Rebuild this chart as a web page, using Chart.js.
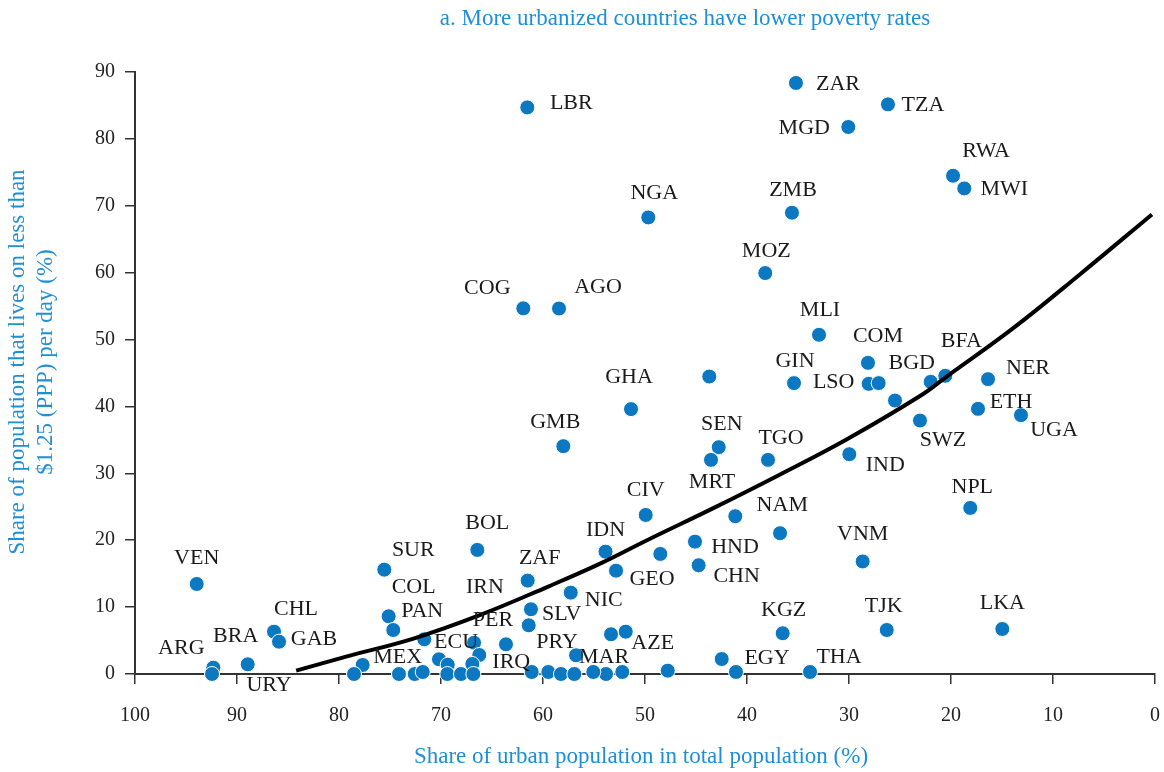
<!DOCTYPE html>
<html><head><meta charset="utf-8">
<script src="https://cdn.jsdelivr.net/npm/chart.js@4.4.0/dist/chart.umd.min.js"></script>
<style>html,body{margin:0;padding:0;background:#fff}#wrap{width:1164px;height:772px;position:relative}</style>
</head><body><div id="wrap"><canvas id="c"></canvas></div>
<script>
// ---- data ----
const countryCodes = ['VEN','ARG','URY','BRA','CHL','GAB','MEX','SUR','COL','PAN','ECU','BOL','IRQ','PER','ZAF','IRN','SLV','NIC','PRY','MAR','IDN','GEO','AZE','HND','CHN','EGY','KGZ','THA','VNM','TJK','LKA','COG','AGO','MLI','GHA','GIN','LSO','COM','BGD','BFA','NER','ETH','UGA','SWZ','IND','NPL','GMB','SEN','MRT','TGO','CIV','NAM','NGA','LBR','ZAR','TZA','MGD','RWA','MWI','ZMB','MOZ',
  '','','','','','','','','','','','','','','','','','','','','','','','',''];
const urbanShare = [93.95,92.32,92.45,88.95,86.37,85.88,77.68,75.56,75.13,74.68,66.76,66.44,66.25,63.63,61.5,61.18,61.4,57.28,56.76,53.82,53.87,52.84,51.89,45.1,44.74,41.08,36.5,33.82,28.66,26.3,14.97,61.93,58.43,32.94,51.37,35.39,28.07,28.14,27.09,20.56,16.37,17.35,13.14,23.04,29.97,18.11,58.01,42.77,43.53,37.94,49.93,41.15,49.68,61.54,35.2,26.18,30.07,19.8,18.7,35.59,38.21,
  78.53,74.12,72.58,71.79,71.64,70.2,69.34,69.38,68.04,66.93,66.83,61.11,59.48,58.24,56.93,55.07,52.23,47.77,53.33,42.48,48.5,43.7,36.76,25.49,21.99];
const povertyShare = [13.46,0.94,0,1.45,6.33,4.83,1.35,15.6,8.63,6.58,4.68,18.55,2.84,4.44,13.96,9.68,7.28,12.16,2.8,0,18.29,15.45,6.33,19.79,16.26,0.3,6.09,0.3,16.83,6.58,6.73,54.67,54.64,50.71,39.6,43.49,43.38,46.52,43.49,44.58,44.08,39.64,38.7,37.89,32.86,24.83,34.06,33.91,32.01,32.01,23.78,23.59,68.26,84.71,88.36,85.16,81.78,74.49,72.6,68.96,59.94,
  0,0,0,0.3,5.19,2.2,1.39,0,0,1.5,0,0.3,0.3,0,0,0.3,0.3,0.5,5.94,2.24,17.95,44.47,21.05,40.88,43.68];
// fitted curve
const fitUrban   = [84.2,79.3,72.7,66.2,59.6,54.4,49.8,43.3,36.8,30.2,23.0,20.4,13.9,7.4,0.3];
const fitPoverty = [0.5,2.6,5.3,8.8,13.0,16.5,20.0,24.8,29.8,35.1,41.6,44.5,51.7,59.7,68.7];
const xTickValues = [100,90,80,70,60,50,40,30,20,10,0];
const yTickValues = [0,10,20,30,40,50,60,70,80,90];
const chartTitle = 'a. More urbanized countries have lower poverty rates';
const xAxisTitle = 'Share of urban population in total population (%)';
const yAxisTitle = ['Share of population that lives on less than', '$1.25 (PPP) per day (%)'];

// ---- label placement (pixel offsets from each dot) ----
const labelPlacement = {
  VEN:[0,-26], ARG:[-32,-19], URY:[57,11], BRA:[-12,-28], CHL:[22,-22], GAB:[35,-2], MEX:[35,-8],
  SUR:[29,-19], COL:[25,-29], PAN:[29,-19], ECU:[-18,0], BOL:[10,-27], IRQ:[32,7], PER:[-13,-24],
  ZAF:[12,-22], IRN:[-46,-22], SLV:[33,-11], NIC:[33,8], PRY:[-19,-13], MAR:[-2,-17], IDN:[0,-21],
  GEO:[36,9], AZE:[27,12], HND:[40,6], CHN:[38,11], EGY:[31,-14], KGZ:[1,-23], THA:[29,-15],
  VNM:[0,-27], TJK:[-3,-24], LKA:[0,-26], COG:[-36,-20], AGO:[39,-21], MLI:[1,-25], GHA:[-2,-32],
  GIN:[1,-22], LSO:[-35,-2], COM:[10,-27], BGD:[33,-20], BFA:[16,-35], NER:[40,-11], ETH:[33,-7],
  UGA:[33,15], SWZ:[23,20], IND:[36,11], NPL:[2,-21], GMB:[-8,-24], SEN:[3,-23], MRT:[1,22],
  TGO:[13,-22], CIV:[0,-25], NAM:[47,-11], NGA:[6,-24], LBR:[44,-4], ZAR:[42,1], TZA:[35,1],
  MGD:[-44,1], RWA:[33,-25], MWI:[40,1], ZMB:[1,-23], MOZ:[1,-22]
};

const FONT = '"Liberation Serif", "DejaVu Serif", serif';
const BLUE_TEXT = '#1E8FD5';
const DOT = '#0B78C1';
const AXIS = '#333333';

const scatterPoints = urbanShare.map((u, i) => ({x: u, y: povertyShare[i]}));
const fitPoints = fitUrban.map((u, i) => ({x: u, y: fitPoverty[i]}));

const labelPlugin = {
  id: 'pointLabels',
  afterDatasetsDraw(chart) {
    const ctx = chart.ctx;
    const meta = chart.getDatasetMeta(1);
    ctx.save();
    ctx.font = '22px ' + FONT;
    ctx.fillStyle = '#1a1a1a';
    ctx.textAlign = 'center';
    ctx.textBaseline = 'middle';
    meta.data.forEach((el, i) => {
      const code = countryCodes[i];
      if (!code) return;
      const off = labelPlacement[code] || [0, -22];
      ctx.fillText(code, el.x + off[0], el.y + off[1]);
    });
    ctx.restore();
  }
};

const textPlugin = {
  id: 'titles',
  afterDraw(chart) {
    const ctx = chart.ctx;
    const ca = chart.chartArea;
    ctx.save();
    ctx.font = '23px ' + FONT;
    ctx.fillStyle = BLUE_TEXT;
    ctx.textAlign = 'center';
    ctx.textBaseline = 'middle';
    ctx.fillText(chartTitle, 685, 19);
    ctx.fillText(xAxisTitle, (ca.left + ca.right) / 2 - 4, 757);
    ctx.translate(0, 362);
    ctx.rotate(-Math.PI / 2);
    ctx.fillText(yAxisTitle[0], 0, 18);
    ctx.fillText(yAxisTitle[1], 0, 46);
    ctx.restore();
  }
};

new Chart(document.getElementById('c'), {
  data: {
    datasets: [
      { type: 'line', data: fitPoints, borderColor: '#000', borderWidth: 4, pointRadius: 0,
        tension: 0.4, fill: false, order: 0, clip: false },
      { type: 'scatter', data: scatterPoints, backgroundColor: DOT, borderColor: '#ffffff',
        borderWidth: 1, pointRadius: 7.5, pointHoverRadius: 7.5, order: 1, clip: false }
    ]
  },
  options: {
    responsive: true, maintainAspectRatio: false, animation: false,
    layout: { autoPadding: false, padding: { top: 72, right: 9, left: 0, bottom: 0 } },
    plugins: { legend: { display: false }, tooltip: { enabled: false }, title: { display: false } },
    scales: {
      x: {
        type: 'linear', reverse: true, min: 0, max: 100,
        afterBuildTicks: s => { s.ticks = xTickValues.map(v => ({value: v})); },
        afterFit: s => { s.height = 98; s.paddingLeft = 0; s.paddingRight = 0; },
        ticks: { font: { family: FONT, size: 20 }, color: '#222', padding: 20, maxRotation: 0 },
        grid: { drawOnChartArea: false, drawTicks: true, tickLength: 10, color: AXIS, lineWidth: 1.5 },
        border: { display: true, color: AXIS, width: 2 },
        title: { display: false }
      },
      y: {
        type: 'linear', min: 0, max: 90,
        afterBuildTicks: s => { s.ticks = yTickValues.map(v => ({value: v})); },
        afterFit: s => { s.width = 135; s.paddingTop = 0; s.paddingBottom = 0; },
        ticks: { font: { family: FONT, size: 20 }, color: '#222', padding: 10 },
        grid: { drawOnChartArea: false, drawTicks: true, tickLength: 10, color: AXIS, lineWidth: 1.5 },
        border: { display: true, color: AXIS, width: 2 },
        title: { display: false }
      }
    }
  },
  plugins: [labelPlugin, textPlugin]
});
</script>
</body></html>
